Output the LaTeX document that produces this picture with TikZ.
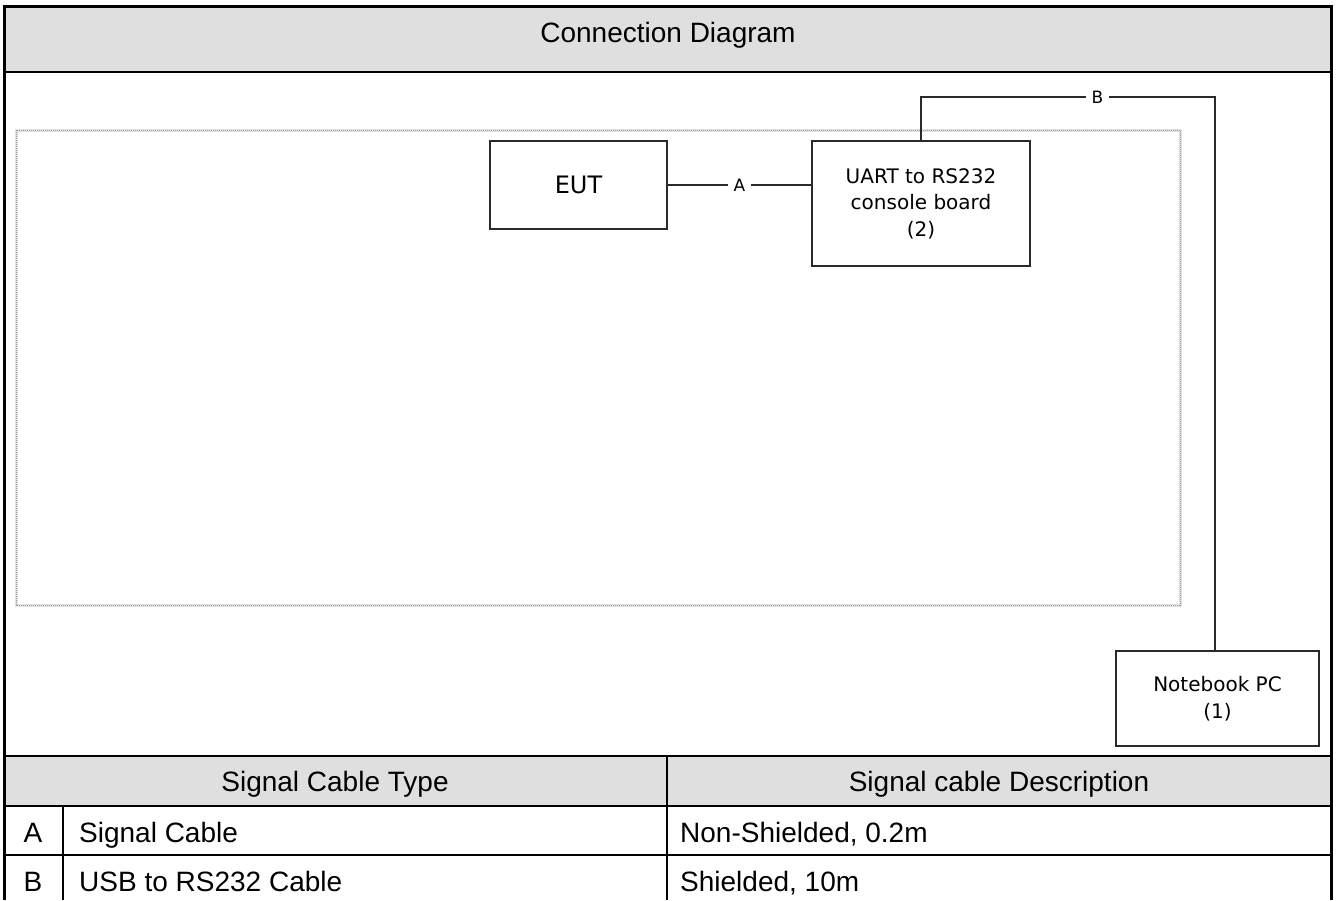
\documentclass[tikz,border=0pt]{standalone}
\usepackage{fontspec}
\usepackage{xcolor}
\usetikzlibrary{positioning}
\setmainfont{Liberation Sans}
\newfontfamily\visio{DejaVu Sans}
\definecolor{headgray}{HTML}{DFDFDF}
\definecolor{wire}{HTML}{2A2A2A}

\begin{document}
\begin{tikzpicture}[
x=1pt, y=-1pt,
box/.style={rectangle, draw=wire, fill=white, line width=1.4pt, align=center, font=\visio\fontsize{20}{26.5}\selectfont},
cable/.style={draw=wire, line width=1.3pt},
tag/.style={fill=white, inner sep=6pt, font=\visio\fontsize{17}{20}\selectfont},
cell/.style={font=\fontsize{28}{32}\selectfont, inner sep=0pt, anchor=base},
rule/.style={line width=2pt},
frame/.style={line width=3pt}
]
\useasboundingbox (0,0) rectangle (1338,900);

% header and table shading
\fill[headgray] (4,6) rectangle (1331,72);
\fill[headgray] (4,756) rectangle (1331,806);

% test area
\draw[gray!22, line width=3pt] (16,130) rectangle (1180,605);
\draw[gray!80, line width=1pt, densely dotted] (16,130) rectangle (1180,605);

% devices
\node[box, minimum width=177pt, minimum height=88pt, font=\visio\fontsize{24}{28}\selectfont](eut) at (578.5,185){EUT};
\node[box, minimum width=218pt, minimum height=125pt](uart) at (921,203.5){UART to RS232\\console board\\(2)};
\node[box, minimum width=203pt, minimum height=95pt](nb) at (1217.5,698.5){Notebook PC\\(1)};
\coordinate (bturn) at (1215,97);

% cables
\draw[cable] (eut.east) -- node[tag]{A} (eut.east -| uart.west);
\draw[cable] (uart.north) |- node[tag, pos=0.8]{B} (bturn) -- (bturn |- nb.north);

% table rules
\draw[rule] (4,72) -- (1331,72);
\draw[rule] (4,756) -- (1331,756);
\draw[rule] (4,806) -- (1331,806);
\draw[rule] (4,855) -- (1331,855);
\draw[rule] (63,806) -- (63,900);
\draw[rule] (667,756) -- (667,900);
\draw[frame] (4,900) -- (4,6) -- (1331,6) -- (1331,900);

% table texts
\node[cell](title) at (668,42){Connection Diagram};
\node[cell](typehead) at (335,791){Signal Cable Type};
\node[cell](deschead) at (999,791){Signal cable Description};
\node[cell](tagA) at (33,842){A};
\node[cell, anchor=base west](typeA) at (79,842){Signal Cable};
\node[cell, anchor=base west](descA) at (680,842){Non-Shielded, 0.2m};
\node[cell](tagB) at (33,891){B};
\node[cell, anchor=base west](typeB) at (79,891){USB to RS232 Cable};
\node[cell, anchor=base west](descB) at (680,891){Shielded, 10m};

\end{tikzpicture}
\end{document}
